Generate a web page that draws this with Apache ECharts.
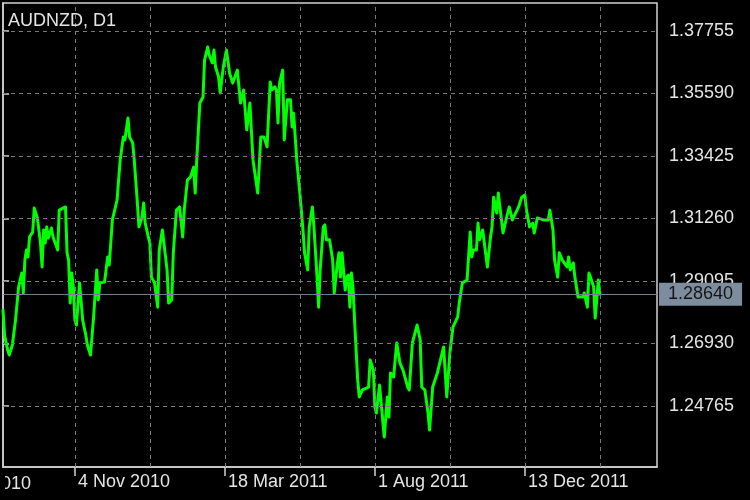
<!DOCTYPE html>
<html>
<head>
<meta charset="utf-8">
<script src="https://cdn.jsdelivr.net/npm/echarts@6/dist/echarts.min.js"></script>
<style>
html,body{margin:0;padding:0;background:#000;}
#chart{width:750px;height:500px;}
</style>
</head>
<body>
<div id="chart"></div>
<script>
// Bar index (daily bars) and close prices
const barIndex = [0,1,3,4,6,8,10,12,13,14,15,16,17,19,20,22,24,25,26,27,28,29,31,32,35,36,40,41,42,43,44,45,46,47,49,51,53,54,56,58,60,61,62,65,67,68,70,73,75,77,78,80,81,83,84,86,87,89,90,91,93,94,95,97,99,100,102,105,106,108,109,111,113,115,116,118,120,122,123,124,126,128,129,131,132,134,135,136,138,139,141,143,145,147,150,152,154,156,158,160,163,164,165,167,169,171,172,174,175,176,177,179,180,182,184,185,186,188,190,192,193,195,196,198,199,201,202,203,205,206,207,209,211,212,214,215,216,217,219,220,221,222,223,224,225,227,228,230,234,235,237,238,239,241,243,244,245,246,247,248,250,252,254,256,259,260,262,265,267,268,270,272,273,275,278,280,282,284,286,288,291,292,294,297,299,300,301,303,304,305,307,310,312,313,314,316,317,318,320,323,324,326,330,332,334,335,337,339,340,342,346,349,350,352,353,355,356,358,361,362,363,365,366,368,371,372,374,375,376,378,379,380,381,382];
const closePrice = [1.2809,1.2722,1.2670,1.2653,1.2688,1.2774,1.2889,1.2937,1.2868,1.2982,1.3017,1.2993,1.3062,1.3079,1.3162,1.3128,1.3041,1.2958,1.3086,1.3041,1.3097,1.3058,1.3093,1.3062,1.3017,1.3155,1.3166,1.3007,1.2982,1.2833,1.2937,1.2889,1.2774,1.2757,1.2903,1.2774,1.2722,1.2688,1.2653,1.2785,1.2948,1.2844,1.2903,1.2906,1.2993,1.2965,1.3121,1.3190,1.3329,1.3408,1.3398,1.3474,1.3408,1.3388,1.3329,1.3180,1.3097,1.3131,1.3180,1.3110,1.3062,1.3041,1.2923,1.2903,1.2819,1.3017,1.3086,1.2948,1.2833,1.2844,1.3007,1.3155,1.3166,1.3062,1.3155,1.3259,1.3270,1.3304,1.3214,1.3329,1.3526,1.3547,1.3675,1.3720,1.3692,1.3665,1.3710,1.3651,1.3616,1.3561,1.3651,1.3710,1.3630,1.3595,1.3640,1.3526,1.3571,1.3433,1.3526,1.3329,1.3214,1.3311,1.3408,1.3408,1.3374,1.3599,1.3571,1.3582,1.3571,1.3457,1.3595,1.3640,1.3398,1.3537,1.3537,1.3443,1.3491,1.3329,1.3214,1.3086,1.3007,1.2948,1.3097,1.3166,1.3097,1.2923,1.2819,1.2948,1.3097,1.3104,1.3052,1.3052,1.2982,1.2868,1.2972,1.3007,1.2923,1.3007,1.2878,1.2923,1.2930,1.2819,1.2937,1.2889,1.2774,1.2567,1.2508,1.2532,1.2542,1.2636,1.2601,1.2473,1.2452,1.2549,1.2428,1.2369,1.2366,1.2508,1.2438,1.2591,1.2577,1.2695,1.2626,1.2601,1.2542,1.2532,1.2695,1.2757,1.2705,1.2542,1.2532,1.2452,1.2393,1.2542,1.2591,1.2636,1.2681,1.2508,1.2660,1.2750,1.2785,1.2833,1.2903,1.2913,1.3079,1.2993,1.3017,1.3017,1.3110,1.3052,1.3086,1.2958,1.3062,1.3097,1.3200,1.3145,1.3214,1.3214,1.3076,1.3145,1.3166,1.3121,1.3166,1.3200,1.3207,1.3155,1.3097,1.3110,1.3076,1.3128,1.3121,1.3121,1.3155,1.3086,1.2982,1.2923,1.3007,1.2982,1.2958,1.2993,1.2948,1.2972,1.2923,1.2854,1.2854,1.2868,1.2819,1.2937,1.2923,1.2889,1.2781,1.2844,1.2913,1.2864];

// Axis ticks
const priceTicks = [1.37755, 1.35590, 1.33425, 1.31260, 1.29095, 1.26930, 1.24765];
const gridBars = [46, 94, 142, 190, 238, 286, 334, 382];
const labelBars = [46, 142, 238, 334];
const dateLabels = ['4 Nov 2010', '18 Mar 2011', '1 Aug 2011', '13 Dec 2011'];
const firstDateLabel = '2010';
const symbolName = 'AUDNZD, D1';
const currentPrice = 1.28640;

const FONT = '"Liberation Sans", Arial, Helvetica, sans-serif';
const seriesData = barIndex.map((b, i) => [b, closePrice[i]]);

const chart = echarts.init(document.getElementById('chart'), null, {renderer: 'canvas'});
chart.setOption({
  backgroundColor: '#000000',
  animation: false,
  title: {
    text: symbolName, left: 3, top: 7,
    textStyle: {color: '#e4e4e4', fontSize: 18, fontWeight: 'normal', fontFamily: FONT}
  },
  grid: {
    left: 3, top: 3, right: 93, bottom: 33,
    show: true, borderColor: '#d2d2d2', borderWidth: 1.5, backgroundColor: 'transparent'
  },
  xAxis: {
    type: 'value', min: 0, max: 418.56,
    axisLine: {show: true, lineStyle: {color: '#d2d2d2', width: 1.5}},
    axisTick: {show: true, length: 9, customValues: labelBars, lineStyle: {color: '#d2d2d2', width: 1.5}},
    axisLabel: {
      show: true, customValues: labelBars,
      formatter: (v) => { const i = labelBars.indexOf(Math.round(v)); return i >= 0 ? dateLabels[i] : ''; },
      color: '#e4e4e4', fontSize: 18, fontFamily: FONT, align: 'left', margin: 6, padding: [0, 0, 0, 3]
    },
    splitLine: {show: false}
  },
  yAxis: {
    type: 'value', position: 'right', min: 1.22652, max: 1.38725, scale: true,
    axisLine: {show: true, lineStyle: {color: '#d2d2d2', width: 1.5}},
    axisTick: {show: true, length: 6, customValues: priceTicks, lineStyle: {color: '#d2d2d2', width: 1.5}},
    axisLabel: {
      show: true, customValues: priceTicks,
      formatter: (v) => v.toFixed(5),
      color: '#e4e4e4', fontSize: 18, fontFamily: FONT, margin: 12
    },
    splitLine: {show: false}
  },
  graphic: [
    {type: 'text', x: 31, y: 475, z: 10, style: {text: firstDateLabel, align: 'right', verticalAlign: 'top', fill: '#e4e4e4', font: '18px ' + FONT}},
    {type: 'rect', shape: {x: 0, y: 470, width: 5, height: 30}, z: 11, style: {fill: '#000'}}
  ],
  series: [
    {
      type: 'line', data: seriesData, z: 1, silent: true,
      showSymbol: false, symbol: 'none', lineStyle: {opacity: 0, width: 0},
      markLine: {
        silent: true, symbol: ['none', 'none'], animation: false, precision: 5,
        label: {show: false},
        lineStyle: {color: '#7a7a7a', type: [4, 4], width: 1},
        data: [
          ...gridBars.map(b => ({xAxis: b})),
          ...priceTicks.map(v => ({yAxis: v}))
        ]
      }
    },
    {
      type: 'line', data: seriesData, z: 2, silent: true,
      showSymbol: false, symbol: 'none', lineStyle: {opacity: 0, width: 0},
      markLine: {
        silent: true, symbol: ['none', 'none'], animation: false, precision: 5,
        lineStyle: {color: '#6e7e8f', type: 'solid', width: 1},
        label: {
          show: true, position: 'end', distance: 2,
          formatter: () => currentPrice.toFixed(5),
          color: '#151515', fontSize: 18, fontFamily: FONT,
          backgroundColor: '#7e8d9d', padding: [3, 9, 2, 9]
        },
        data: [{yAxis: currentPrice}]
      }
    },
    {
      type: 'line', data: seriesData, z: 3,
      showSymbol: false, symbol: 'none',
      lineStyle: {color: '#00ff00', width: 3, join: 'round', cap: 'round'},
      emphasis: {disabled: true}
    }
  ]
});
</script>
</body>
</html>
